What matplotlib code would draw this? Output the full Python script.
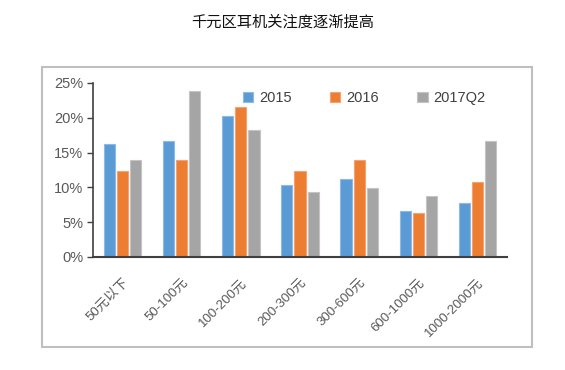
import numpy as np
import matplotlib.pyplot as plt
from matplotlib.patches import Rectangle
from matplotlib.ticker import FuncFormatter

plt.rcParams['font.family'] = ['Liberation Sans', 'Noto Sans CJK SC']

categories = ['50元以下', '50-100元', '100-200元', '200-300元', '300-600元', '600-1000元', '1000-2000元']
s2015 = [16.3, 16.6, 20.2, 10.3, 11.2, 6.6, 7.7]
s2016 = [12.3, 13.9, 21.6, 12.3, 13.9, 6.3, 10.8]
s2017q2 = [13.9, 23.9, 18.2, 9.3, 9.9, 8.7, 16.6]
series_names = ['2015', '2016', '2017Q2']
colors = ['#5B9BD5', '#ED7D31', '#A5A5A5']
edges = ['#8DB9E6', '#F4A274', '#C4C4C4']

fig = plt.figure(figsize=(5.65, 3.7), dpi=100)

# outer frame
fig.patches.append(Rectangle((42 / 565, 1 - 347 / 370), 490 / 565, 280 / 370,
                             transform=fig.transFigure, fill=False,
                             edgecolor='#BFBFBF', linewidth=1.5))

fig.text(0.5, 1 - 22 / 370, '千元区耳机关注度逐渐提高', ha='center', va='center',
         fontsize=11, color='#111111', family=['Noto Sans CJK SC', 'DejaVu Sans'])

ax = fig.add_axes([93 / 565, 1 - 257 / 370, 414 / 565, 174 / 370])
x = np.arange(len(categories))
w = 0.19
for i, (vals, name) in enumerate(zip([s2015, s2016, s2017q2], series_names)):
    ax.bar(x + (i - 1) * 0.222, vals, width=w, color=colors[i],
           edgecolor=edges[i], linewidth=0.8, label=name, zorder=2)

ax.set_xlim(-0.5, 6.5)
ax.set_ylim(0, 25)
ax.set_yticks([0, 5, 10, 15, 20, 25])
ax.yaxis.set_major_formatter(FuncFormatter(lambda v, p: f'{int(v)}%'))
ax.tick_params(axis='y', labelsize=10.5, colors='#404040', length=4, width=1, pad=3)
ax.tick_params(axis='y', labelcolor='#595959')
ax.set_xticks(x)
ax.set_xticklabels(categories, rotation=45, ha='right', rotation_mode='anchor',
                   fontsize=9.5, color='#595959')
ax.tick_params(axis='x', length=0, pad=14)
for s in ['top', 'right']:
    ax.spines[s].set_visible(False)
ax.spines['left'].set_color('#404040')
ax.spines['bottom'].set_color('#404040')
ax.spines['left'].set_linewidth(1.2)
ax.spines['bottom'].set_linewidth(1.5)

leg = ax.legend(loc='upper left', bbox_to_anchor=(0.33, 1.03), ncol=3, frameon=False,
                fontsize=10.5, handlelength=0.7, handleheight=0.7, handletextpad=0.4,
                columnspacing=2.65)
for t in leg.get_texts():
    t.set_color('#404040')

fig.savefig('out.png', dpi=100)
